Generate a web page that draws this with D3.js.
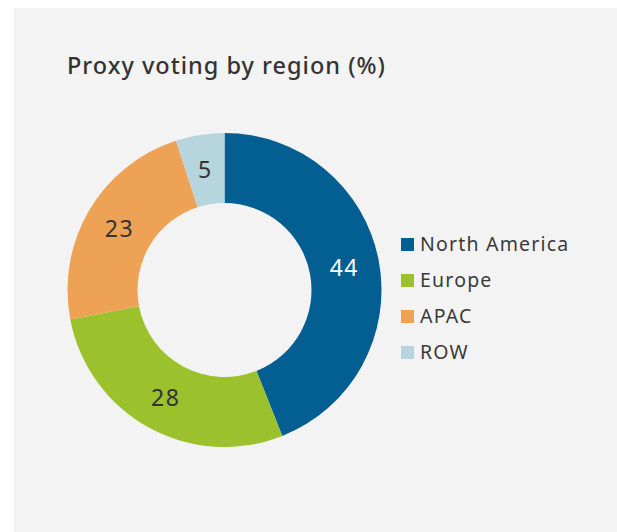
<!DOCTYPE html>
<html>
<head>
<meta charset="utf-8">
<script src="https://cdn.jsdelivr.net/npm/d3@7"></script>
<style>
  body { margin: 0; background: #fff; }
  text { font-family: "Noto Sans", sans-serif; }
</style>
</head>
<body>
<svg id="chart" width="617" height="532"></svg>
<script>
// data
var regions = ["North America", "Europe", "APAC", "ROW"];
var shares = [44, 28, 23, 5];
var colors = ["#035e92", "#9bc12c", "#eda256", "#b7d5dd"];
var labelColors = ["#ffffff", "#333333", "#333333", "#333333"];

var svg = d3.select("#chart");

// grey panel
svg.append("rect")
  .attr("x", 14).attr("y", 8)
  .attr("width", 603).attr("height", 524)
  .attr("fill", "#f3f3f3");

svg.append("text")
  .attr("x", 67).attr("y", 73.5)
  .attr("fill", "#333")
  .style("font-size", "23.5px")
  .style("font-weight", 500)
  .style("letter-spacing", "1px")
  .text("Proxy voting by region (%)");

var color = d3.scaleOrdinal().domain(regions).range(colors);

var pie = d3.pie().sort(null).value(function(d) { return d.value; });
var arc = d3.arc().innerRadius(87).outerRadius(157);

var data = regions.map(function(r, i) { return { region: r, value: shares[i], i: i }; });

var g = svg.append("g").attr("transform", "translate(224.5,290)");

var slices = g.selectAll(".slice")
  .data(pie(data))
  .enter().append("g").attr("class", "slice");

slices.append("path")
  .attr("d", arc)
  .attr("fill", function(d) { return color(d.data.region); });

slices.append("text")
  .attr("transform", function(d) { return "translate(" + arc.centroid(d) + ")"; })
  .attr("text-anchor", "middle")
  .attr("dy", "0.38em")
  .attr("fill", function(d) { return labelColors[d.data.i]; })
  .style("font-size", "23px")
  .style("letter-spacing", "1.5px")
  .text(function(d) { return d.data.value; });

// legend
var legendY = d3.scalePoint().domain(regions).range([238, 346]);

var legend = svg.append("g").selectAll(".leg")
  .data(regions)
  .enter().append("g").attr("class", "leg")
  .attr("transform", function(d) { return "translate(401," + legendY(d) + ")"; });

legend.append("rect")
  .attr("width", 13).attr("height", 13)
  .attr("fill", function(d) { return color(d); });

legend.append("text")
  .attr("x", 19).attr("y", 12.5)
  .attr("fill", "#3a3a3a")
  .style("font-size", "19.5px")
  .style("letter-spacing", "1.2px")
  .text(function(d) { return d; });
</script>
</body>
</html>
